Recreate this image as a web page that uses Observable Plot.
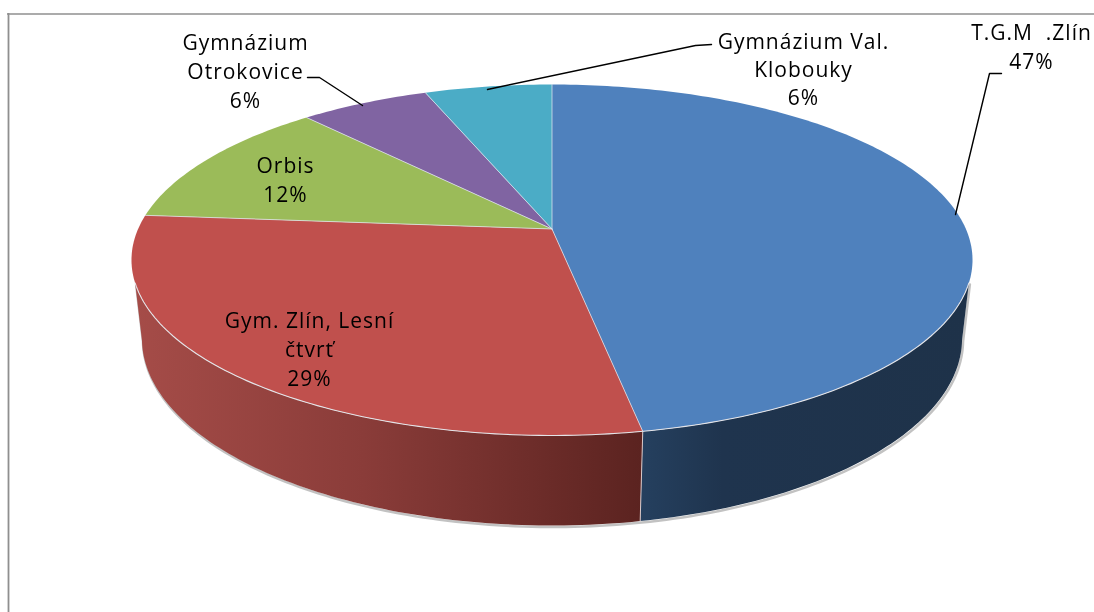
<!DOCTYPE html>
<html><head><meta charset="utf-8">
<script src="https://cdn.jsdelivr.net/npm/d3@7"></script>
<script src="https://cdn.jsdelivr.net/npm/@observablehq/plot@0.6"></script>
<style>
html,body{margin:0;padding:0;background:#fff}
svg{display:block;filter:blur(.45px)}
</style></head><body><div id="chart"></div>
<script>
// Data (slice shares, clockwise from 12 o'clock)
const categories = ["T.G.M  .Zlín", "Gym. Zlín, Lesní čtvrť", "Orbis", "Gymnázium Otrokovice", "Gymnázium Val. Klobouky"];
const shares = [47.1, 29.2, 12, 5.9, 5.8];
const percentLabels = ["47%", "29%", "12%", "6%", "6%"];
const colors = ["#4f81bd", "#c0504d", "#9bbb59", "#8064a2", "#4bacc6"];

// Perspective disc: top face and bottom face of the pie
const topDisc = {cx: 551.5, cy: 228.5, a: 170, d: 413.9, c: -0.1766};
const botDisc = {cx: 551.5, cy: 305.7, a: 181.4, d: 403.9, c: -0.1728};
const rad = deg => deg * Math.PI / 180;
function rim(disc, deg) {
  const u = Math.sin(rad(deg)), v = -Math.cos(rad(deg)), k = 1 + disc.c * v;
  return {x: disc.cx + disc.d * u / k, y: disc.cy + disc.a * v / k};
}
function arc(disc, from, to) {
  const n = Math.max(2, Math.ceil(Math.abs(to - from))), out = [];
  for (let i = 0; i <= n; ++i) out.push(rim(disc, from + (to - from) * i / n));
  return out;
}
const total = d3.sum(shares);
const cum = [0, ...d3.cumsum(shares)].map(s => s / total * 360);
const centre = {x: topDisc.cx, y: topDisc.cy};

const wedges = categories.flatMap((name, i) =>
  [centre, ...arc(topDisc, cum[i], cum[i + 1])]
    .map(p => ({...p, name, color: colors[i]})));
const spokes = cum.slice(0, -1).map(a => [centre, rim(topDisc, a)]);

// Visible side walls (silhouette angles where the wall leaves the rim)
const silhouetteTop = 17.5, silhouetteBot = 10.5;
const blueWall = [...arc(topDisc, 90 + silhouetteTop, cum[1]), ...arc(botDisc, cum[1], 90 + silhouetteBot)];
const redWall = [...arc(topDisc, cum[1], 270 - silhouetteTop), ...arc(botDisc, 270 - silhouetteBot, cum[1])];
const frontBottom = arc(botDisc, 90 + silhouetteBot, 270 - silhouetteBot);
const shadowPath = [rim(topDisc, 90 + silhouetteTop), ...frontBottom, rim(topDisc, 270 - silhouetteTop)];
const frontRim = arc(topDisc, 90 + silhouetteTop, 270 - silhouetteTop);
const seam = [rim(topDisc, cum[1]), rim(botDisc, cum[1])];

// Labels
const labelRows = [
  {lines: ["Gymnázium", "Otrokovice", percentLabels[3]], x: 245, y: [43, 72, 101]},
  {lines: ["Gymnázium Val.", "Klobouky", percentLabels[4]], x: 803, y: [42, 70, 98]},
  {lines: ["T.G.M  .Zlín", percentLabels[0]], x: 1031, y: [33, 62]},
  {lines: ["Orbis", percentLabels[2]], x: 285, y: [166, 195]},
  {lines: ["Gym. Zlín, Lesní", "čtvrť", percentLabels[1]], x: 309, y: [321, 350, 379]}
];
const labelText = labelRows.flatMap(r => r.lines.map((t, i) => ({t, x: r.x, y: r.y[i]})));
const leaders = [
  [{x: 307, y: 77}, {x: 319, y: 77}, {x: 362, y: 105}],
  [{x: 487, y: 89}, {x: 695, y: 45}, {x: 711, y: 44}],
  [{x: 955, y: 214}, {x: 989, y: 73}, {x: 1001, y: 73}]
];

function gradient(id, stops) {
  const g = d3.create("svg:linearGradient").attr("id", id).attr("x1", 0).attr("x2", 1).attr("y1", 0).attr("y2", 0);
  stops.forEach(([o, c]) => g.append("stop").attr("offset", o).attr("stop-color", c));
  return g.node();
}
function defs() {
  const d = d3.create("svg:defs");
  d.append(() => gradient("redSide", [[0, "#a54c48"], [0.45, "#8a3c39"], [1, "#5b2320"]]));
  d.append(() => gradient("blueSide", [[0, "#25405f"], [0.25, "#1f344e"], [1, "#1e3249"]]));
  return d.node();
}
const closed = {x: "x", y: "y", curve: "linear-closed"};

const chart = Plot.plot({
  width: 1094, height: 612, margin: 0,
  x: {domain: [0, 1094], range: [0, 1094], axis: null},
  y: {domain: [0, 612], range: [0, 612], axis: null},
  color: {type: "identity"},
  marks: [
    defs,
    Plot.ruleY([13.5], {x1: 7, x2: 1094, stroke: "#8f8f8f", strokeWidth: 1.6}),
    Plot.ruleX([8], {y1: 13, y2: 612, stroke: "#8f8f8f", strokeWidth: 1.8}),
    Plot.line(shadowPath, {x: d => d.x + 1, y: d => d.y + 1.5, stroke: "#999", strokeWidth: 2.5, strokeOpacity: 0.6}),
    Plot.line(blueWall, {...closed, fill: "url(#blueSide)", stroke: "none"}),
    Plot.line(redWall, {...closed, fill: "url(#redSide)", stroke: "none"}),
    Plot.line(seam, {x: "x", y: "y", stroke: "#d8c8c8", strokeWidth: 1}),
    Plot.line(wedges, {...closed, z: "name", fill: "color", stroke: "none"}),
    ...spokes.map(s => Plot.line(s, {x: "x", y: "y", stroke: "#dfe6ee", strokeWidth: 1, strokeOpacity: 0.75})),
    Plot.line(frontRim, {x: "x", y: "y", stroke: "#e4e4e8", strokeWidth: 1.1}),
    ...leaders.map(l => Plot.line(l, {x: "x", y: "y", stroke: "#000", strokeWidth: 1.4, strokeLinejoin: "miter"})),
    Plot.text(labelText, {x: "x", y: "y", text: "t", fontFamily: "'Open Sans'", fontSize: 21, fill: "#000", textAnchor: "middle", lineAnchor: "middle"})
  ]
});
chart.style.letterSpacing = "1px";
document.getElementById("chart").append(chart);
</script></body></html>
